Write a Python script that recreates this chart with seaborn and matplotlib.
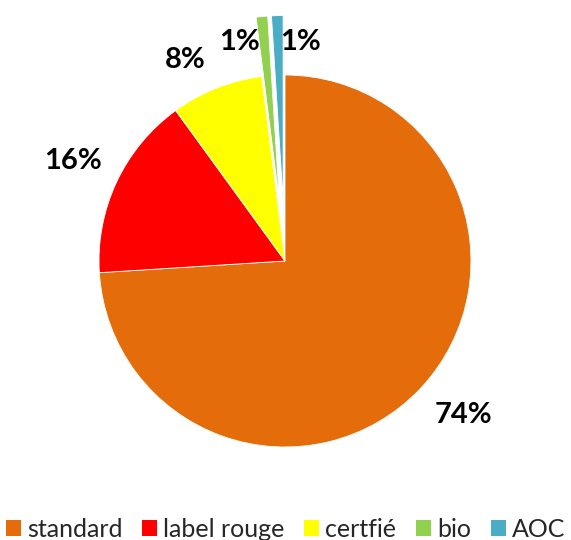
import matplotlib
matplotlib.use("Agg")
import matplotlib.pyplot as plt
import seaborn as sns
from matplotlib.patches import Patch

sns.set_theme(style="white")
plt.rcParams['font.family'] = ['Lato', 'DejaVu Sans']

categories = ["standard", "label rouge", "certfié", "bio", "AOC"]
values = [74.0, 16.0, 8.0, 1.0, 1.0]
colors = ["#E46C0A", "#FF0000", "#FFFF00", "#92D050", "#4BACC6"]
explode = [0, 0, 0, 0.32, 0.32]

fig = plt.figure(figsize=(5.71, 5.40), dpi=100)
ax = fig.add_axes([0, 0, 1, 1])

wedges, texts, autotexts = ax.pie(
    values, colors=colors, explode=explode, startangle=90, counterclock=False,
    radius=1.0, autopct='%.0f%%', pctdistance=1.26,
    wedgeprops=dict(edgecolor='white', linewidth=0.6),
    textprops=dict(fontsize=21, fontweight='bold', color='black'),
)
# label layout like the reference (small slices' labels pushed apart)
autotexts[0].set_position((0.957, -0.828))
autotexts[2].set_position((-0.538, 1.08))
autotexts[3].set_position((-0.242, 1.177))
autotexts[4].set_position((0.081, 1.177))

ax.set_xlim(-285 / 186, (571 - 285) / 186)
ax.set_ylim((261 - 540) / 186, 261 / 186)
ax.set_aspect('auto')
ax.axis('off')

handles = [Patch(facecolor=c, edgecolor='none', label=l) for c, l in zip(colors, categories)]
leg = fig.legend(handles=handles, loc='lower center', bbox_to_anchor=(0.5, -0.002),
                 ncol=5, frameon=False, fontsize=18, handlelength=0.6, handleheight=0.6,
                 handletextpad=0.25, columnspacing=0.78, borderpad=0, borderaxespad=0)

fig.savefig("out.png", dpi=100)
